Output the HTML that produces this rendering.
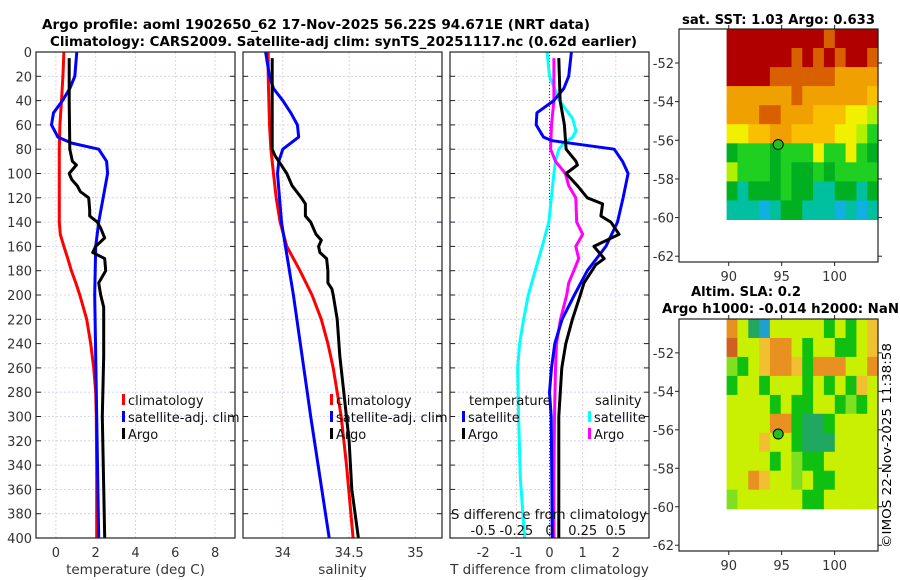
<!DOCTYPE html>
<html><head><meta charset="utf-8"><style>
body{margin:0;background:#fff;width:900px;height:580px;overflow:hidden}
svg{display:block;font-family:"DejaVu Sans","Liberation Sans",sans-serif}
</style></head><body>
<svg id="fig" width="900" height="580" viewBox="0 0 900 580">
<text x="42" y="29" font-size="13" font-weight="bold" textLength="548" lengthAdjust="spacingAndGlyphs">Argo profile: aoml 1902650_62 17-Nov-2025 56.22S 94.671E (NRT data)</text>
<text x="50" y="46" font-size="13" font-weight="bold" textLength="587" lengthAdjust="spacingAndGlyphs">Climatology: CARS2009. Satellite-adj clim: synTS_20251117.nc (0.62d earlier)</text>
<g id="plots"></g>
<text transform="translate(891,548) rotate(-90)" font-size="12.5" textLength="205" lengthAdjust="spacingAndGlyphs">©IMOS 22-Nov-2025 11:38:58</text>
</svg>
<script>
// ---- data ----
const tClimD=[0,20,40,60,80,100,120,140,150,160,170,180,190,200,220,240,260,280,300,350,400];
const tClim=[0.4,0.35,0.28,0.2,0.17,0.17,0.17,0.17,0.22,0.4,0.6,0.78,1.0,1.2,1.55,1.75,1.9,2.0,2.03,2.05,2.05];
const tSatD=[0,20,30,40,50,60,70,75,80,90,100,140,160,200,300,400];
const tSat=[1.05,0.95,0.7,0.33,-0.12,-0.22,0.1,0.8,2.15,2.55,2.6,2.15,2.0,1.95,2.05,2.15];
const tArgoD=[5,40,80,90,93,100,105,110,115,120,130,135,140,145,153,160,165,170,180,190,200,210,250,300,400];
const tArgo=[0.67,0.67,0.7,0.83,1.03,0.67,0.8,1.07,1.23,1.65,1.7,1.7,2.08,2.25,2.45,2.0,1.85,2.45,2.5,2.15,2.25,2.4,2.4,2.33,2.45];
const sClimD=[0,20,60,80,100,120,140,160,180,200,220,240,260,280,300,340,400];
const sClim=[33.89,33.89,33.90,33.91,33.93,33.95,33.98,34.03,34.13,34.22,34.29,34.34,34.38,34.41,34.44,34.48,34.53];
const sSatD=[0,20,30,40,50,60,70,75,80,90,100,140,200,300,400];
const sSat=[33.87,33.90,33.93,34.0,34.06,34.11,34.12,34.06,34.0,33.97,33.96,33.99,34.08,34.21,34.35];
const sArgoD=[5,80,85,95,100,110,120,125,135,140,150,155,160,165,170,180,190,195,200,220,250,280,320,360,400];
const sArgo=[33.92,33.92,33.94,34.0,34.03,34.07,34.14,34.17,34.17,34.21,34.25,34.29,34.27,34.28,34.33,34.34,34.34,34.37,34.38,34.41,34.43,34.46,34.50,34.52,34.57];
const dtSatD=[0,20,30,40,50,60,70,73,80,90,100,120,140,160,180,200,220,240,260,280,300,350,400];
const dtSat=[0.66,0.58,0.43,0.13,-0.38,-0.4,-0.18,0.08,1.95,2.2,2.37,2.22,2.05,1.7,1.14,0.75,0.38,0.16,0.06,0.0,0.05,0.07,0.08];
const dtArgoD=[5,40,60,80,90,93,100,110,120,125,135,140,150,160,170,175,190,200,220,240,260,300,350,400];
const dtArgo=[0.28,0.32,0.45,0.5,0.8,0.84,0.5,0.84,1.14,1.6,1.55,1.85,2.1,1.34,1.65,1.4,1.04,0.93,0.69,0.49,0.37,0.28,0.28,0.28];
const dsSatD=[0,20,40,55,65,70,75,80,90,100,140,160,180,200,220,240,260,300,350,400];
const dsSat=[-0.018,0,0.075,0.175,0.2,0.175,0.108,0.07,0.045,0.033,-0.005,-0.055,-0.108,-0.16,-0.195,-0.225,-0.24,-0.233,-0.22,-0.188];
const dsArgoD=[5,40,60,80,90,95,100,110,120,140,150,160,170,180,190,200,220,240,260,300,350,400];
const dsArgo=[0.033,0.033,0.015,0.008,0.045,0.083,0.12,0.145,0.198,0.205,0.25,0.198,0.22,0.183,0.145,0.13,0.083,0.053,0.045,0.038,0.033,0.033];
const depthTicks=[0,20,40,60,80,100,120,140,160,180,200,220,240,260,280,300,320,340,360,380,400];
const tTicks=[0,2,4,6,8];
const sTicks=[34,34.5,35];
const sTickLabels=['34','34.5','35'];
const dTicks=[-2,-1,0,1,2];
const dsTicks=[-0.5,-0.25,0,0.25,0.5];
const sstRows=["99999999989999","99999989898998","99998888887777","77777787777776","77788777666554","55667766665543","23332333533532","43332322323333","21222322112212","11101221110101"];
const slaRows=["74104444424246","84467742442246","32467762777447","24424442424264","44442422442324","44447721124444","44464421114444","44442432244444","44764434224444","34444442244444"];
const latTicks=[-52,-54,-56,-58,-60,-62];
const lonTicks=[90,95,100];
const argoPos=[94.671,-56.22];

const NS='http://www.w3.org/2000/svg';
const root=document.getElementById('plots');
function mk(tag,attrs,parent){const e=document.createElementNS(NS,tag);for(const k in attrs)e.setAttribute(k,attrs[k]);(parent||root).appendChild(e);return e;}
const yTop=52,yBot=538;
const yD=d=>yTop+d*(yBot-yTop)/400;

function panel(name,x0,x1,xmin,xmax,ticks,labels,showY,xlabel){
  const g=mk('g',{});
  
  
  const xs=v=>x0+(v-xmin)*(x1-x0)/(xmax-xmin);
  depthTicks.forEach(d=>{
    const l=mk('line',{x1:x0,x2:x1,y1:yD(d),y2:yD(d),stroke:'#c8cff0','stroke-width':0.8,'stroke-dasharray':'2,2'},g);
    
    
    mk('line',{x1:x0,x2:x0+5,y1:yD(d),y2:yD(d),stroke:'#222'},g);
    mk('line',{x1:x1-5,x2:x1,y1:yD(d),y2:yD(d),stroke:'#222'},g);
    if(showY){const t=mk('text',{x:x0-4,y:yD(d)+5,'text-anchor':'end','font-size':13,fill:'#333'},g);t.textContent=d;
      
      }
  });
  ticks.forEach((v,i)=>{
    const l=mk('line',{x1:xs(v),x2:xs(v),y1:yTop,y2:yBot,stroke:'#e0c8c8','stroke-width':0.8,'stroke-dasharray':'2,2'},g);
    
    
    const t=mk('text',{x:xs(v),y:557,'text-anchor':'middle','font-size':13,fill:'#333'},g);t.textContent=labels[i];
    
    
  });
  const xl=mk('text',{x:(x0+x1)/2,y:574,'text-anchor':'middle','font-size':13.5,fill:'#333'},g);xl.textContent=xlabel;
  
  
  return {g,xs};
}
function line(p,ds,vs,color,name,scale){
  const pts=ds.map((d,i)=>p.xs(vs[i]*(scale||1)).toFixed(1)+','+yD(d).toFixed(1)).join(' ');
  const e=mk('polyline',{points:pts,fill:'none',stroke:color,'stroke-width':3,'stroke-linejoin':'round'},p.g);
  
  
}
function frame(p,x0,x1){mk('rect',{x:x0,y:yTop,width:x1-x0,height:yBot-yTop,fill:'none',stroke:'#222','stroke-width':1.2},p.g);}
function legend(g,x,y,items){
  items.forEach((it,i)=>{
    mk('rect',{x:x,y:y+i*17-6,width:3,height:11,fill:it[0]},g);
    const t=mk('text',{x:x+6,y:y+i*17+5,'font-size':13,fill:'#111'},g);t.textContent=it[1];
    
    
  });
}

const p1=panel('temperature-panel',36,235,-1,9,tTicks,tTicks.map(String),true,'temperature (deg C)');
line(p1,tClimD,tClim,'#f00','temp-climatology-line');
line(p1,tSatD,tSat,'#00f','temp-satellite-line');
line(p1,tArgoD,tArgo,'#000','temp-argo-line');
frame(p1,36,235);
legend(p1.g,122,400,[['#f00','climatology'],['#00f','satellite-adj. clim'],['#000','Argo']]);

const p2=panel('salinity-panel',243,442,33.7,35.2,sTicks,sTickLabels,false,'salinity');
line(p2,sClimD,sClim,'#f00','sal-climatology-line');
line(p2,sSatD,sSat,'#00f','sal-satellite-line');
line(p2,sArgoD,sArgo,'#000','sal-argo-line');
frame(p2,243,442);
legend(p2.g,330,400,[['#f00','climatology'],['#00f','satellite-adj. clim'],['#000','Argo']]);

const p3=panel('difference-panel',450,649,-3,3,dTicks,dTicks.map(String),false,'T difference from climatology');
mk('line',{x1:p3.xs(0),x2:p3.xs(0),y1:yTop,y2:yBot,stroke:'#334422','stroke-width':1,'stroke-dasharray':'1,2'},p3.g);
line(p3,dsSatD,dsSat,'#0ff','sdiff-satellite-line',4);
line(p3,dsArgoD,dsArgo,'#f0f','sdiff-argo-line',4);
line(p3,dtSatD,dtSat,'#00f','tdiff-satellite-line');
line(p3,dtArgoD,dtArgo,'#000','tdiff-argo-line');
frame(p3,450,649);
{const t=mk('text',{x:469,y:405,'font-size':13,fill:'#111'},p3.g);t.textContent='temperature';


const s=mk('text',{x:595,y:405,'font-size':13,fill:'#111'},p3.g);s.textContent='salinity';

}
legend(p3.g,462,417,[['#00f','satellite'],['#000','Argo']]);
legend(p3.g,588,417,[['#0ff','satellite'],['#f0f','Argo']]);
{const t=mk('text',{x:451,y:519,'font-size':13.5,fill:'#111',textLength:196,lengthAdjust:'spacingAndGlyphs'},p3.g);t.textContent='S difference from climatology';


dsTicks.forEach(v=>{const e=mk('text',{x:p3.xs(v*4),y:535,'text-anchor':'middle','font-size':13,fill:'#111'},p3.g);e.textContent=String(v);

});}

// ---- maps ----
const sstPal=['#10b0e0','#00c0a0','#00b020','#20d020','#b0f000','#f0f000','#f8c000','#f0a000','#d86000','#b00000'];
const slaPal=['#20a0d0','#20a860','#10c010','#80e020','#c8f000','#f0f020','#f0c030','#e89020','#d06020'];
function map(name,top,bot,rows,pal,titles){
  const g=mk('g',{});
  
  
  const x0=679,x1=878,lonMin=85.3,lonMax=104.1,latTop=-50.24;
  const ppd=(bot-top)/(latTop-(-62.3));
  const xs=v=>x0+(v-lonMin)*(x1-x0)/(lonMax-lonMin);
  const ys=v=>top+(latTop-v)*ppd;
  const latBot=-60.1,lon0=89.8,lon1=104.1;
  const nr=rows.length,nc=rows[0].length;
  rows.forEach((r,i)=>{for(let j=0;j<nc;j++){
    const la=latTop-i*(latTop-latBot)/nr, la2=latTop-(i+1)*(latTop-latBot)/nr;
    const lo=lon0+j*(lon1-lon0)/nc, lo2=lon0+(j+1)*(lon1-lon0)/nc;
    const c=mk('rect',{x:xs(lo).toFixed(1),y:ys(la).toFixed(1),width:(xs(lo2)-xs(lo)+0.6).toFixed(1),height:(ys(la2)-ys(la)+0.6).toFixed(1),fill:pal[+r[j]]},g);
    
    
  }});
  mk('rect',{x:x0,y:top,width:x1-x0,height:bot-top,fill:'none',stroke:'#222','stroke-width':1.2},g);
  latTicks.forEach(v=>{mk('line',{x1:x0-4,x2:x0,y1:ys(v),y2:ys(v),stroke:'#222'},g);mk('line',{x1:x1,x2:x1+4,y1:ys(v),y2:ys(v),stroke:'#222'},g);
    const t=mk('text',{x:x0-5,y:ys(v)+5,'text-anchor':'end','font-size':13,fill:'#333'},g);t.textContent=v;
    
    });
  lonTicks.forEach(v=>{mk('line',{x1:xs(v),x2:xs(v),y1:top-4,y2:top,stroke:'#222'},g);mk('line',{x1:xs(v),x2:xs(v),y1:bot,y2:bot+4,stroke:'#222'},g);
    const t=mk('text',{x:xs(v),y:bot+19,'text-anchor':'middle','font-size':13,fill:'#333'},g);t.textContent=v;
    
    });
  const m=mk('circle',{cx:xs(argoPos[0]),cy:ys(argoPos[1]),r:5,fill:'#20c020',stroke:'#000','stroke-width':1},g);
  
  
  titles.forEach(tt=>{const t=mk('text',{x:tt[0],y:tt[1],'font-size':13,'font-weight':'bold',textLength:tt[2],lengthAdjust:'spacingAndGlyphs'},g);t.textContent=tt[3];
    
    });
}
map('sst-map',29,262,sstRows,sstPal,[[682,24,193,'sat. SST: 1.03 Argo: 0.633']]);
map('sla-map',319,551,slaRows,slaPal,[[691,296,110,'Altim. SLA: 0.2'],[662,313,237,'Argo h1000: -0.014 h2000: NaN']]);
</script>
</body></html>
